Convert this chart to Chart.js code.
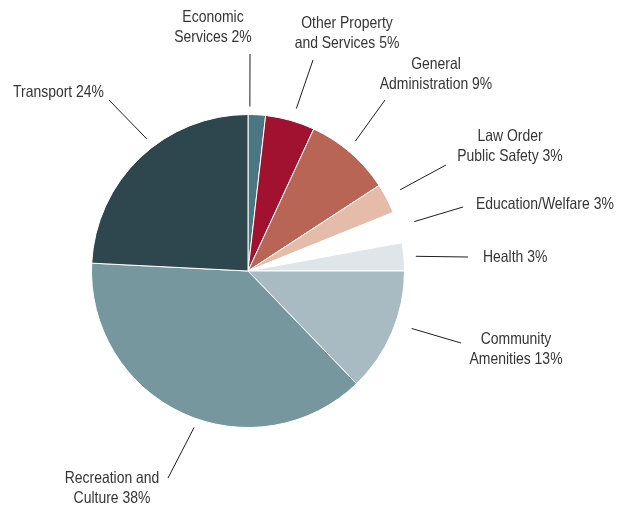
<!DOCTYPE html>
<html>
<head>
<meta charset="utf-8">
<script src="https://cdn.jsdelivr.net/npm/chart.js@4"></script>
<style>
  html, body { margin: 0; padding: 0; background: #ffffff; }
  #c { display: block; }
</style>
</head>
<body>
<canvas id="c" width="619" height="510"></canvas>
<script>
// ---- data ----
const categories = [
  "Economic Services", "Other Property and Services", "General Administration",
  "Law Order Public Safety", "Education/Welfare", "Health",
  "Community Amenities", "Recreation and Culture", "Transport"
];
const shares = [1.8, 5.1, 8.9, 3.1, 3.2, 2.9, 12.8, 38.0, 24.2];
const labelLines = [
  ["Economic", "Services 2%"],
  ["Other Property", "and Services 5%"],
  ["General", "Administration 9%"],
  ["Law Order", "Public Safety 3%"],
  ["Education/Welfare 3%"],
  ["Health 3%"],
  ["Community", "Amenities 13%"],
  ["Recreation and", "Culture 38%"],
  ["Transport 24%"]
];
const sliceColors = [
  "#4a7783", "#a0122f", "#b96555", "#e4bca9", "#ffffff",
  "#dfe6e9", "#a8bbc3", "#76979e", "#2e464d"
];

// ---- label layout (annotation placement) ----
const labelLayout = [
  { t: 0.10, gap: 8,  ox: 250, oy: 54,  tx: 213, ty: 22,  align: "center" },
  { t: 0.55, gap: 13, ox: 313, oy: 60,  tx: 347, ty: 28,  align: "center" },
  { t: 0.46, gap: 12, ox: 385, oy: 100, tx: 436, ty: 69,  align: "center" },
  { t: 0.45, gap: 16, ox: 446, oy: 165, tx: 510, ty: 141, align: "center" },
  { t: 0.47, gap: 17, ox: 463, oy: 207, tx: 476, ty: 209, align: "left" },
  { t: 0.52, gap: 12, ox: 468, oy: 257, tx: 483, ty: 262, align: "left" },
  { t: 0.42, gap: 17, ox: 461, oy: 343, tx: 516, ty: 344, align: "center" },
  { t: 0.46, gap: 9,  ox: 168, oy: 478, tx: 112, ty: 483, align: "center" },
  { t: 0.57, gap: 10, ox: 109, oy: 100, tx: 13,  ty: 97,  align: "left" }
];

const FONT = '16.5px "Liberation Sans", Arial, sans-serif';
const REF_WIDTH = 91; // width of "Transport 24%" in the reference

const labelPlugin = {
  id: "leaderLabels",
  afterDatasetsDraw(chart) {
    const ctx = chart.ctx;
    const meta = chart.getDatasetMeta(0);
    ctx.save();
    ctx.font = FONT;
    const sx = REF_WIDTH / ctx.measureText("Transport 24%").width;
    ctx.strokeStyle = "#1e1e1e";
    ctx.lineWidth = 1;
    ctx.fillStyle = "#353535";
    ctx.textBaseline = "alphabetic";
    meta.data.forEach((arc, i) => {
      const L = labelLayout[i];
      const a = arc.startAngle + (arc.endAngle - arc.startAngle) * L.t;
      const r = arc.outerRadius + L.gap;
      const ix = arc.x + Math.cos(a) * r;
      const iy = arc.y + Math.sin(a) * r;
      ctx.beginPath();
      ctx.moveTo(ix, iy);
      ctx.lineTo(L.ox, L.oy);
      ctx.stroke();
      ctx.save();
      ctx.translate(L.tx, 0);
      ctx.scale(sx, 1);
      ctx.textAlign = L.align;
      labelLines[i].forEach((s, k) => ctx.fillText(s, 0, L.ty + k * 20));
      ctx.restore();
    });
    ctx.restore();
  }
};

new Chart(document.getElementById("c"), {
  type: "pie",
  data: {
    labels: categories,
    datasets: [{
      data: shares,
      backgroundColor: sliceColors,
      borderColor: "#ffffff",
      borderWidth: 1,
      hoverOffset: 0,
      offset: 0
    }]
  },
  options: {
    responsive: false,
    animation: false,
    events: [],
    layout: { padding: { left: 91, right: 214, top: 114, bottom: 82 } },
    plugins: { legend: { display: false }, tooltip: { enabled: false } }
  },
  plugins: [labelPlugin]
});
</script>
</body>
</html>
